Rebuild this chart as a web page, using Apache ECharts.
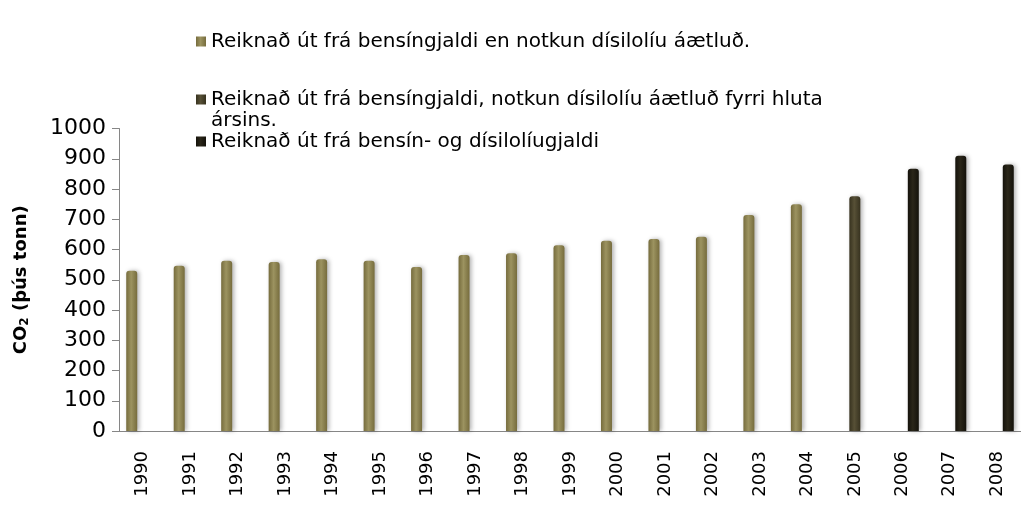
<!DOCTYPE html>
<html lang="is">

<head>
    <meta charset="UTF-8">
    <script src="https://cdn.jsdelivr.net/npm/echarts@6/dist/echarts.min.js"></script>
    <title>CO2</title>
    <style>
        html, body { margin: 0; padding: 0; background: #fff; }
        #main { width: 1021px; height: 511px; }
    </style>
</head>

<body>
    <div id="main"></div>

    <script>
        var years = ['1990', '1991', '1992', '1993', '1994', '1995', '1996', '1997', '1998', '1999',
            '2000', '2001', '2002', '2003', '2004', '2005', '2006', '2007', '2008'];
        // áætlað, áætlað hluta ársins, reiknað
        var estimated = [530, 546, 563, 559, 568, 563, 542, 582, 588, 614, 629, 635, 642, 714, 750,
            null, null, null, null];
        var partEstimated = [null, null, null, null, null, null, null, null, null, null, null, null,
            null, null, null, 776, null, null, null];
        var calculated = [null, null, null, null, null, null, null, null, null, null, null, null,
            null, null, null, null, 867, 910, 881];
        var seriesNames = [
            'Reiknað út frá bensíngjaldi en notkun dísilolíu áætluð.',
            'Reiknað út frá bensíngjaldi, notkun dísilolíu áætluð fyrri hluta\nársins.',
            'Reiknað út frá bensín- og dísilolíugjaldi'
        ];

        var font = '"DejaVu Sans", sans-serif';

        function tube(dark, mid) {
            return new echarts.graphic.LinearGradient(0, 0, 1, 0, [
                { offset: 0, color: dark },
                { offset: 0.45, color: mid },
                { offset: 1, color: dark }
            ]);
        }

        var colors = [
            tube('#766c3d', '#9c9360'),
            tube('#37321f', '#575036'),
            tube('#14120b', '#2a2619')
        ];

        function barSeries(i, data) {
            return {
                name: seriesNames[i],
                type: 'bar',
                data: data,
                barWidth: 11,
                barGap: '0%',
                itemStyle: {
                    color: colors[i],
                    borderRadius: [3, 3, 0, 0],
                    shadowColor: 'rgba(0,0,0,0.3)',
                    shadowBlur: 4,
                    shadowOffsetX: 2
                }
            };
        }

        function legendAt(i, top, fmt) {
            var l = {
                data: [{ name: seriesNames[i], icon: 'rect' }],
                left: 196,
                top: top,
                padding: 0,
                itemWidth: 10,
                itemHeight: 10,
                itemGap: 0,
                textStyle: { fontFamily: font, fontSize: 20, color: '#000', lineHeight: 21 }
            };
            if (fmt) l.formatter = fmt;
            return l;
        }

        var myChart = echarts.init(document.getElementById('main'));
        var option = {
            animation: false,
            color: ['#8b8150', '#4a432c', '#1e1b12'],
            legend: [
                legendAt(0, 31),
                // tóm lína ofan við svo táknið standi við fyrstu línuna
                legendAt(1, 68, function (n) { return ' \n' + n; }),
                legendAt(2, 131)
            ],
            grid: { left: 119, top: 128.5, width: 912, height: 302.5 },
            xAxis: {
                type: 'category',
                data: years,
                axisLine: { lineStyle: { color: '#868686', width: 1 } },
                axisTick: { length: 7, lineStyle: { color: '#868686' } },
                axisLabel: { rotate: 90, margin: 20, fontFamily: font, fontSize: 18, color: '#000' }
            },
            yAxis: {
                type: 'value',
                min: 0,
                max: 1000,
                interval: 100,
                name: '{b|CO}{s|2}{b| (þús tonn)}',
                nameLocation: 'middle',
                nameGap: 88,
                nameTextStyle: {
                    rich: {
                        b: { fontFamily: font, fontSize: 18, fontWeight: 'bold', color: '#000' },
                        s: { fontFamily: font, fontSize: 12, fontWeight: 'bold', color: '#000', padding: [8, 0, 0, 0] }
                    }
                },
                splitLine: { show: false },
                axisLine: { show: true, lineStyle: { color: '#868686' } },
                axisTick: { show: true, length: 7, lineStyle: { color: '#868686' } },
                axisLabel: {
                    margin: 13, fontFamily: font, fontSize: 22, color: '#000',
                    formatter: function (v) { return String(v); }
                }
            },
            series: [
                barSeries(0, estimated),
                barSeries(1, partEstimated),
                barSeries(2, calculated)
            ]
        };
        myChart.setOption(option);
    </script>
</body>

</html>
